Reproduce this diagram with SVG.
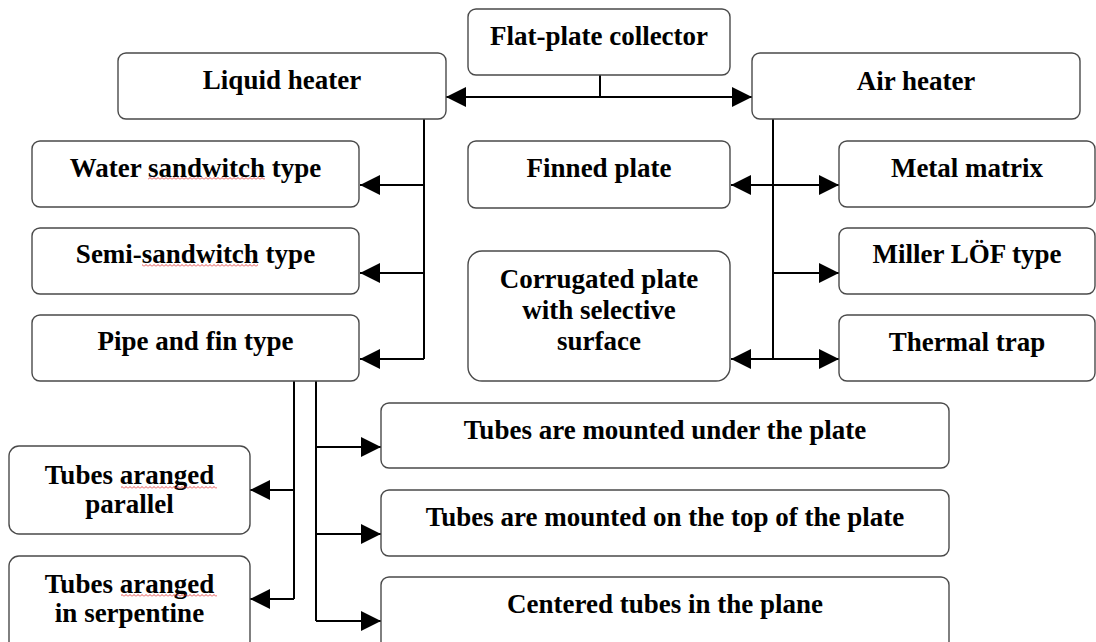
<svg xmlns="http://www.w3.org/2000/svg" width="1096" height="642" viewBox="0 0 1096 642">
<style>
.box{fill:#fff;stroke:#4a4a4a;stroke-width:1.4}
.t{font-family:"Liberation Serif","Times New Roman",serif;font-weight:bold;font-size:27px;fill:#000;text-anchor:middle}
.c{fill:none;stroke:#000;stroke-width:2}
.sq{fill:url(#squig)}
</style>
<defs>
<marker id="arr" viewBox="0 0 10 10" refX="10" refY="5" markerWidth="20" markerHeight="20" markerUnits="userSpaceOnUse" orient="auto-start-reverse">
<path d="M0,0 L10,5 L0,10 z" fill="#000"/>
</marker>
<pattern id="squig" width="4" height="3" patternUnits="userSpaceOnUse">
<path d="M0 2.5 L2 0.5 L4 2.5" fill="none" stroke="#e02020" stroke-width="0.8"/>
</pattern>
</defs>
<rect width="1096" height="642" fill="#fff"/>
<g id="connectors">
<path class="c" d="M600 75 V97"/>
<path class="c" d="M446 97 H752" marker-start="url(#arr)" marker-end="url(#arr)"/>
<path class="c" d="M424 119 V359"/>
<path class="c" d="M424 185 H360" marker-end="url(#arr)"/>
<path class="c" d="M424 273 H360" marker-end="url(#arr)"/>
<path class="c" d="M424 359 H360" marker-end="url(#arr)"/>
<path class="c" d="M773 119 V359"/>
<path class="c" d="M773 185 H731" marker-end="url(#arr)"/>
<path class="c" d="M773 185 H839" marker-end="url(#arr)"/>
<path class="c" d="M773 273 H839" marker-end="url(#arr)"/>
<path class="c" d="M773 359 H731" marker-end="url(#arr)"/>
<path class="c" d="M773 359 H839" marker-end="url(#arr)"/>
<path class="c" d="M294 381 V599"/>
<path class="c" d="M294 490 H250" marker-end="url(#arr)"/>
<path class="c" d="M294 599 H250" marker-end="url(#arr)"/>
<path class="c" d="M316 381 V621"/>
<path class="c" d="M316 447 H381" marker-end="url(#arr)"/>
<path class="c" d="M316 534 H381" marker-end="url(#arr)"/>
<path class="c" d="M316 621 H381" marker-end="url(#arr)"/>
</g>
<g id="flat-plate"><rect class="box" x="468" y="9" width="262" height="66" rx="8"/><text class="t" x="599" y="45">Flat-plate collector</text></g>
<g id="liquid-heater"><rect class="box" x="118" y="53" width="328" height="66" rx="8"/><text class="t" x="282" y="89">Liquid heater</text></g>
<g id="air-heater"><rect class="box" x="752" y="53" width="328" height="66" rx="8"/><text class="t" x="916" y="90">Air heater</text></g>
<g id="water-sandwich"><rect class="box" x="32" y="141" width="327" height="66" rx="8"/><text class="t" x="195.5" y="177">Water sandwitch type</text><rect class="sq" x="148" y="177" width="117" height="3"/></g>
<g id="semi-sandwich"><rect class="box" x="32" y="228" width="327" height="66" rx="8"/><text class="t" x="195.5" y="263">Semi-sandwitch type</text><rect class="sq" x="142" y="264" width="116" height="3"/></g>
<g id="pipe-fin"><rect class="box" x="32" y="315" width="327" height="66" rx="8"/><text class="t" x="195.5" y="350">Pipe and fin type</text></g>
<g id="finned-plate"><rect class="box" x="468" y="141" width="262" height="67" rx="8"/><text class="t" x="599" y="177">Finned plate</text></g>
<g id="corrugated"><rect class="box" x="468" y="251" width="262" height="130" rx="14"/><text class="t" x="599" y="288">Corrugated plate</text><text class="t" x="599" y="319">with selective</text><text class="t" x="599" y="350">surface</text></g>
<g id="metal-matrix"><rect class="box" x="839" y="141" width="256" height="66" rx="8"/><text class="t" x="967" y="177">Metal matrix</text></g>
<g id="miller"><rect class="box" x="839" y="228" width="256" height="66" rx="8"/><text class="t" x="967" y="263">Miller LÖF type</text></g>
<g id="thermal-trap"><rect class="box" x="839" y="315" width="256" height="66" rx="8"/><text class="t" x="967" y="351">Thermal trap</text></g>
<g id="tubes-parallel"><rect class="box" x="9" y="446" width="241" height="88" rx="10"/><text class="t" x="129.5" y="484">Tubes aranged</text><text class="t" x="129.5" y="513">parallel</text><rect class="sq" x="121" y="486" width="96" height="3"/></g>
<g id="tubes-serpentine"><rect class="box" x="9" y="556" width="241" height="95" rx="10"/><text class="t" x="129.5" y="593">Tubes aranged</text><text class="t" x="129.5" y="622">in serpentine</text><rect class="sq" x="121" y="594" width="96" height="3"/></g>
<g id="tubes-under"><rect class="box" x="381" y="403" width="568" height="65" rx="8"/><text class="t" x="665" y="439">Tubes are mounted under the plate</text></g>
<g id="tubes-top"><rect class="box" x="381" y="490" width="568" height="66" rx="8"/><text class="t" x="665" y="526">Tubes are mounted on the top of the plate</text></g>
<g id="tubes-centered"><rect class="box" x="381" y="577" width="568" height="75" rx="8"/><text class="t" x="665" y="613">Centered tubes in the plane</text></g>
</svg>
